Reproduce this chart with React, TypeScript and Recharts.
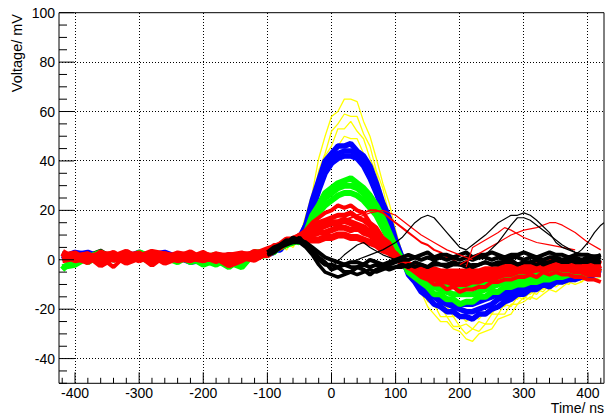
import React from 'react'
import { LineChart, Line, XAxis, YAxis, CartesianGrid, ReferenceLine } from 'recharts'

// time grid (ns): coarse in the quiet baseline, 10 ns after -100
const T = [
  -420, -400, -380, -360, -340, -320, -300, -280, -260, -240, -220, -200, -180, -160, -140, -120, -100,
  -90, -80, -70, -60, -50, -40, -30, -20, -10,
  0, 10, 20, 30, 40, 50, 60, 70, 80, 90,
  100, 110, 120, 130, 140, 150, 160, 170, 180, 190,
  200, 210, 220, 230, 240, 250, 260, 270, 280, 290,
  300, 310, 320, 330, 340, 350, 360, 370, 380, 390,
  400, 410, 420,
]

// mV
const yellow1 = [
  2, 0, 3, 1, 2, -1, 2, 3, 1, 0, 2, 1, -1, 1, 2, 1, 3,
  5, 5, 5, 8, 9, 18, 27, 41, 50,
  58, 60, 65, 65, 64, 56, 50, 41, 31, 23,
  12, 3, -2, -9, -13, -19, -22, -25, -25, -28,
  -29, -32, -33, -30, -29, -28, -24, -23, -22, -18,
  -17, -15, -16, -14, -12, -13, -11, -9, -10, -9,
  -7, -8, -7,
]
const yellow2 = [
  1, 3, 0, 2, 1, 3, 0, 1, 2, -1, 1, 2, 0, 2, 0, 2, 2,
  3, 6, 5, 8, 7, 15, 23, 36, 43,
  52, 55, 59, 58, 58, 51, 46, 36, 29, 18,
  11, 2, -2, -9, -11, -17, -18, -23, -23, -27,
  -27, -30, -28, -29, -26, -26, -22, -22, -18, -18,
  -15, -16, -12, -13, -10, -11, -9, -10, -7, -9,
  -6, -7, -5,
]
const yellow3 = [
  3, 1, 2, 0, 3, 1, 2, 0, 3, 1, 0, 2, 1, -1, 1, 3, 2,
  5, 4, 7, 5, 9, 12, 23, 31, 42,
  46, 53, 53, 56, 52, 49, 41, 35, 25, 19,
  8, 3, -4, -6, -12, -14, -19, -19, -23, -23,
  -27, -26, -28, -25, -26, -22, -22, -18, -19, -15,
  -16, -13, -14, -11, -12, -9, -10, -7, -9, -6,
  -8, -5, -6,
]
const yellow4 = [
  0, 2, 1, 3, 0, 2, 1, 2, 0, 2, 3, 0, 1, 2, -1, 2, 3,
  4, 6, 4, 8, 7, 13, 19, 30, 36,
  44, 46, 50, 49, 49, 43, 39, 30, 25, 15,
  9, 1, -2, -8, -9, -14, -15, -19, -19, -23,
  -22, -25, -23, -24, -21, -22, -18, -19, -15, -16,
  -13, -14, -11, -12, -9, -10, -7, -9, -6, -7,
  -5, -6, -4,
]

const blue1 = [
  1, 3, 2, 0, 2, 1, 3, 1, 2, 0, 1, -1, 1, 0, 2, 2, 3,
  5, 5, 6, 8, 9, 14, 24, 32, 40,
  43, 46, 46, 47, 44, 42, 38, 31, 23, 17,
  8, 1, -6, -9, -13, -15, -18, -19, -21, -21,
  -23, -23, -24, -22, -22, -20, -19, -17, -16, -14,
  -14, -12, -12, -10, -11, -9, -9, -8, -8, -7,
  -7, -6, -6,
]
const blue2 = [
  2, 0, 1, 2, 0, 3, 1, 0, 1, 2, 0, 1, 0, 2, 1, 3, 2,
  3, 5, 6, 8, 8, 14, 21, 30, 37,
  41, 43, 44, 44, 43, 40, 35, 29, 22, 14,
  7, 0, -5, -8, -11, -13, -15, -17, -18, -19,
  -20, -21, -21, -20, -19, -18, -16, -15, -14, -13,
  -12, -11, -10, -9, -9, -8, -7, -7, -6, -6,
  -5, -5, -4,
]
const blue3 = [
  0, 2, 3, 1, 1, 2, 0, 2, 3, 1, -1, 0, 2, 1, 0, 1, 4,
  4, 4, 7, 7, 9, 13, 20, 28, 35,
  39, 41, 42, 42, 41, 38, 33, 27, 20, 13,
  6, 0, -4, -7, -10, -12, -14, -15, -16, -17,
  -18, -18, -18, -17, -16, -15, -14, -13, -12, -11,
  -10, -9, -9, -8, -7, -7, -6, -6, -5, -5,
  -4, -4, -3,
]

const green1 = [
  -3, -2, 1, 3, 0, 2, 1, -1, 2, 0, 1, -2, 0, -3, 1, 2, 2,
  5, 5, 7, 7, 9, 11, 18, 22, 27,
  29, 31, 32, 33, 31, 29, 26, 22, 17, 11,
  5, 0, -5, -7, -9, -11, -14, -14, -16, -16,
  -18, -17, -17, -15, -15, -13, -13, -11, -11, -10,
  -10, -9, -9, -8, -8, -7, -7, -6, -6, -5,
  -6, -4, -5,
]
const green2 = [
  -4, 1, 2, 0, 2, -1, 3, 1, 0, 2, -1, 1, 2, -1, -3, 3, 3,
  3, 6, 6, 8, 7, 11, 16, 21, 25,
  27, 29, 30, 30, 29, 27, 24, 20, 15, 10,
  4, 0, -3, -6, -8, -9, -11, -12, -13, -14,
  -14, -14, -14, -13, -12, -11, -10, -9, -9, -8,
  -8, -7, -7, -6, -6, -5, -5, -4, -4, -4,
  -3, -3, -3,
]
const green3 = [
  1, 2, -1, 2, 1, 2, 0, 2, 1, -1, 2, 0, -2, 1, 2, 1, 2,
  4, 5, 6, 7, 8, 10, 14, 19, 22,
  24, 26, 27, 27, 26, 24, 21, 18, 13, 8,
  3, -1, -3, -5, -6, -7, -8, -9, -10, -10,
  -11, -11, -11, -10, -10, -9, -8, -8, -7, -7,
  -6, -6, -5, -5, -5, -4, -4, -3, -3, -3,
  -2, -2, -2,
]

const red1 = [
  2, 3, 0, 1, -3, 2, 3, 0, 1, 3, 2, 1, -1, 2, 3, 1, 3,
  6, 6, 7, 9, 10, 12, 15, 17, 19,
  20, 22, 21, 22, 20, 19, 15, 13, 9, 7,
  2, -1, -3, -5, -7, -8, -10, -10, -12, -11,
  -13, -12, -12, -11, -11, -9, -9, -8, -8, -7,
  -7, -6, -7, -5, -6, -5, -6, -6, -7, -7,
  -8, -8, -9,
]
const red2 = [
  0, 1, 2, -2, 1, 3, 0, 2, -1, 1, 0, 2, 1, -2, 0, 3, 2,
  4, 6, 7, 8, 9, 10, 11, 13, 14,
  15, 15, 16, 15, 14, 13, 11, 9, 7, 4,
  2, -1, -2, -4, -5, -6, -7, -7, -8, -8,
  -8, -8, -8, -7, -7, -6, -6, -5, -5, -4,
  -4, -4, -3, -3, -3, -3, -3, -2, -2, -3,
  -3, -3, -2,
]
const red3 = [
  3, 0, 1, 2, 2, -1, 1, 3, 2, 0, 1, 0, 2, 1, 2, 2, 4,
  5, 6, 8, 8, 9, 8, 8, 8, 9,
  9, 10, 10, 9, 9, 8, 7, 6, 4, 3,
  1, -1, -2, -3, -3, -4, -4, -5, -5, -5,
  -5, -5, -5, -5, -4, -4, -4, -3, -3, -3,
  -2, -2, -2, -2, -1, -2, -2, -1, -2, -2,
  -2, -1, -2,
]
const red4 = [
  1, 2, 3, 0, 2, 1, -1, 2, 3, 2, 0, 1, 3, 0, 1, 2, 3,
  4, 6, 6, 8, 9, 9, 10, 12, 13,
  14, 15, 16, 17, 18, 19, 20, 20, 19, 17,
  15, 13, 11, 9, 7, 6, 4, 3, 1, 0,
  -2, -3, -4, -4, -4, -4, -3, -3, -2, -2,
  -2, -1, -1, -1, -1, 0, -1, -1, -1, -2,
  -2, -2, -1,
]
const red5 = [
  2, 1, -1, 3, 0, 1, 2, -2, 2, 1, 3, 0, 1, 2, 1, 0, 3,
  5, 5, 7, 8, 9, 9, 10, 11, 11,
  12, 13, 13, 12, 13, 11, 10, 8, 6, 4,
  1, -1, -3, -4, -5, -6, -6, -7, -7, -7,
  -7, -6, -7, -6, -6, -5, -5, -4, -4, -4,
  -3, -3, -4, -3, -3, -2, -3, -3, -4, -4,
  -5, -4, -5,
]
const red6 = [
  1, 2, 0, 1, 3, 0, 2, 1, 0, 2, 1, 3, 0, 1, 2, 1, 2,
  4, 6, 7, 8, 10, 11, 13, 15, 16,
  17, 18, 18, 19, 17, 16, 14, 11, 8, 5,
  2, 0, -2, -4, -6, -7, -8, -9, -9, -10,
  -10, -10, -9, -9, -8, -8, -7, -6, -6, -5,
  -5, -5, -4, -4, -4, -3, -4, -4, -5, -5,
  -6, -6, -6,
]

const black1 = [
  3, 1, 2, 4, 1, 3, 2, 0, 3, 1, 2, 0, 1, 2, 0, 2, 3,
  5, 6, 8, 7, 9, 6, 4, 1, -1,
  -4, -3, -5, -5, -3, -4, -6, -4, -3, -4,
  -3, -2, -3, -1, -2, -3, -1, -2, -2, -1,
  -2, -1, -3, -2, -1, -2, -1, -1, 0, -2,
  -1, -1, 0, -2, -1, 0, -1, 0, -1, -1,
  0, -1, -1,
]
const black2 = [
  1, 3, 2, 1, 3, 2, 4, 2, 1, 2, 0, 2, 0, 1, 2, 1, 2,
  3, 5, 7, 9, 8, 7, 5, 3, 1,
  0, -1, -2, -1, -1, -2, 0, -1, -2, -1,
  0, 1, 2, 1, 2, 3, 1, 2, 2, 1,
  2, 3, 1, 2, 2, 3, 2, 1, 2, 2,
  3, 2, 1, 2, 3, 2, 2, 1, 2, 2,
  2, 1, 2,
]
const black3 = [
  2, 2, 0, 3, 2, 0, 1, 3, 2, 3, 1, 1, 2, 0, 1, 3, 2,
  3, 5, 6, 7, 7, 5, 2, -2, -5,
  -6, -7, -6, -5, -6, -5, -4, -5, -4, -3,
  -3, -3, -2, -3, -2, -3, -2, -2, -3, -2,
  -2, -3, -2, -2, -1, -2, -2, -1, -1, -2,
  -1, -1, -2, -1, -1, 0, -1, -1, 0, -1,
  -1, 0, -1,
]
const black4 = [
  2, 1, 3, 0, 2, 3, 1, 2, 0, 2, 3, 1, 2, 1, 3, 2, 3,
  4, 6, 7, 8, 8, 6, 3, 0, -2,
  -2, -3, -2, -3, -3, -2, -3, -2, -3, -2,
  -1, 0, 0, 1, 0, 1, 0, 1, 0, 1,
  0, 1, 0, 1, 1, 0, 1, 0, 1, 1,
  0, 1, 1, 0, 1, 1, 0, 1, 1, 0,
  1, 0, 1,
]

// stray late pulses, each with its own time points
const blackLateT = [20, 40, 60, 80, 100, 110, 120, 130, 140, 150, 160, 170, 180, 190, 200, 210, 220, 240, 260, 280, 290, 300, 310, 320, 340, 350, 360, 380, 400, 420]
const blackLate = [-2, 0, 2, 4, 7, 9, 12, 15, 17, 18, 17, 14, 11, 8, 5, 4, 6, 10, 15, 18, 18, 19, 18, 16, 11, 7, 5, 3, 2, 2]
const blackEarlyT = [0, 20, 40, 50, 60, 80, 100]
const blackEarly = [-3, 2, 6, 7, 5, 2, 0]
const blackMidT = [230, 240, 260, 280, 290, 300, 310, 320, 340, 360, 380, 400]
const blackMid = [0, 2, 7, 14, 17, 17, 16, 14, 10, 6, 3, 1]
const blackEdgeT = [370, 380, 390, 400, 410, 420, 425]
const blackEdge = [0, 2, 4, 7, 11, 14, 15]

const redLateT = [200, 220, 240, 260, 280, 300, 320, 340, 350, 360, 380, 400, 420]
const redLate = [-2, 1, 4, 7, 10, 12, 13, 15, 15, 14, 11, 7, 4]
const redMidT = [210, 220, 240, 260, 270, 280, 300, 320, 340, 360, 380]
const redMid = [-3, 5, 8, 11, 13, 12, 9, 7, 6, 5, 4]
const redSlowT = [40, 60, 80, 100, 120, 140, 160, 180, 200, 220]
const redSlow = [17, 19, 20, 18, 14, 10, 7, 4, 2, 0]

const X_TICKS = [
  -420, -400, -380, -360, -340, -320, -300, -280, -260, -240, -220, -200, -180, -160, -140, -120, -100,
  -80, -60, -40, -20, 0, 20, 40, 60, 80, 100, 120, 140, 160, 180, 200, 220, 240, 260, 280, 300,
  320, 340, 360, 380, 400, 420,
]
const Y_TICKS = [-50, -45, -40, -35, -30, -25, -20, -15, -10, -5, 0, 5, 10, 15, 20, 25, 30, 35, 40, 45, 50, 55, 60, 65, 70, 75, 80, 85, 90, 95, 100]
const X_GRID = [-400, -300, -200, -100, 0, 100, 200, 300, 400]
const Y_GRID = [-40, -20, 0, 20, 40, 60, 80]

const FONT = '"Liberation Sans", Arial, Helvetica, sans-serif'

const pts = (ts: number[], vs: number[]) => ts.map((t, i) => ({ t, v: vs[i] }))
// black band traces only from -100 ns on, so the baseline stays mostly colour
const late = (vs: number[]) => pts(T, vs).slice(16)

const traces = [
  { d: pts(T, yellow1), c: '#ffff00', w: 1.3 },
  { d: pts(T, yellow2), c: '#ffff00', w: 1.3 },
  { d: pts(T, yellow3), c: '#ffff00', w: 1.3 },
  { d: pts(T, yellow4), c: '#ffff00', w: 1.3 },
  { d: pts(T, black1), c: '#000000', w: 2.5 },
  { d: pts(T, blue1), c: '#0000ff', w: 5.5 },
  { d: pts(T, blue2), c: '#0000ff', w: 5.5 },
  { d: pts(T, blue3), c: '#0000ff', w: 5.5 },
  { d: pts(T, green1), c: '#00ff00', w: 6 },
  { d: pts(T, green2), c: '#00ff00', w: 6 },
  { d: pts(T, green3), c: '#00ff00', w: 6 },
  { d: pts(T, red1), c: '#ff0000', w: 4 },
  { d: pts(T, red6), c: '#ff0000', w: 5 },
  { d: pts(T, red2), c: '#ff0000', w: 7 },
  { d: pts(T, red5), c: '#ff0000', w: 6 },
  { d: pts(T, red3), c: '#ff0000', w: 7 },
  { d: pts(T, red4), c: '#ff0000', w: 2 },
  { d: late(black1), c: '#000000', w: 4 },
  { d: late(black4), c: '#000000', w: 4 },
  { d: late(black2), c: '#000000', w: 4 },
  { d: late(black3), c: '#000000', w: 3.5 },
  { d: pts(redLateT, redLate), c: '#ff0000', w: 1.2 },
  { d: pts(redMidT, redMid), c: '#ff0000', w: 1.2 },
  { d: pts(redSlowT, redSlow), c: '#ff0000', w: 1.2 },
  { d: pts(blackLateT, blackLate), c: '#000000', w: 1.2 },
  { d: pts(blackEarlyT, blackEarly), c: '#000000', w: 1.2 },
  { d: pts(blackMidT, blackMid), c: '#000000', w: 1.2 },
  { d: pts(blackEdgeT, blackEdge), c: '#000000', w: 1.2 },
]

const XTick = (props: any) => {
  const { x, y, payload } = props
  const v = payload.value
  const major = v % 100 === 0
  return (
    <g>
      <line x1={x} x2={x} y1={y} y2={y - (major ? 11 : 5.5)} stroke="#000" />
      {major && (
        <text x={x} y={y + 14.7} textAnchor="middle" fontSize={14} fontFamily={FONT} fill="#000">
          {v}
        </text>
      )}
    </g>
  )
}

const YTick = (props: any) => {
  const { x, y, payload } = props
  const v = payload.value
  const major = v % 20 === 0
  return (
    <g>
      <line x1={x} x2={x + (major ? 15 : 8)} y1={y} y2={y} stroke="#000" />
      {major && (
        <text x={x - 4} y={y + 5} textAnchor="end" fontSize={14} fontFamily={FONT} fill="#000">
          {v}
        </text>
      )}
    </g>
  )
}

export default function App() {
  return (
    <div style={{ position: 'absolute', left: 0, top: 0, width: 610, height: 420, background: '#fff' }}>
      <LineChart width={610} height={420} margin={{ top: 12.7, right: 6, bottom: 6.7, left: 9 }}>
        <CartesianGrid
          stroke="#000"
          strokeDasharray="1 2"
          shapeRendering="crispEdges"
          horizontalValues={Y_GRID}
          verticalValues={X_GRID}
        />
        <XAxis
          type="number"
          dataKey="t"
          domain={[-425, 425]}
          ticks={X_TICKS}
          interval={0}
          allowDataOverflow
          height={30}
          tickSize={0}
          tickMargin={0}
          tickLine={false}
          axisLine={{ stroke: '#000' }}
          tick={<XTick />}
        />
        <YAxis
          type="number"
          dataKey="v"
          domain={[-50, 100]}
          ticks={Y_TICKS}
          interval={0}
          allowDataOverflow
          width={50}
          tickSize={0}
          tickMargin={0}
          tickLine={false}
          axisLine={{ stroke: '#000' }}
          tick={<YTick />}
        />
        {traces.map((tr, i) => (
          <Line
            key={i}
            data={tr.d}
            dataKey="v"
            type="linear"
            stroke={tr.c}
            strokeWidth={tr.w}
            strokeLinejoin="bevel"
            dot={false}
            activeDot={false}
            isAnimationActive={false}
          />
        ))}
        <ReferenceLine y={100} stroke="#000" />
        <ReferenceLine x={425} stroke="#000" />
        <text x={604} y={413} textAnchor="end" fontSize={14} fontFamily={FONT} fill="#000">
          Time/ ns
        </text>
        <text
          x={21.5}
          y={14}
          transform="rotate(-90, 21.5, 14)"
          textAnchor="end"
          fontSize={14.5}
          fontFamily={FONT}
          fill="#000"
        >
          Voltage/ mV
        </text>
      </LineChart>
    </div>
  )
}
